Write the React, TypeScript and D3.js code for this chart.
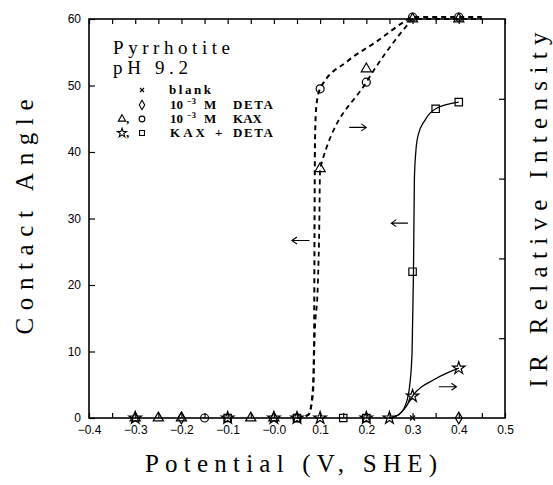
import { useEffect, useRef } from 'react';
import * as d3 from 'd3';

// axis ticks
const xTickLabels = ['−0.4', '−0.3', '−0.2', '−0.1', '−0.0', '0.1', '0.2', '0.3', '0.4', '0.5'];
const yTickValues = [0, 10, 20, 30, 40, 50, 60];

// 10^-3 M KAX: triangles = IR intensity, circles = contact angle
const kaxIrX = [-0.3, -0.25, -0.2, -0.05, 0.0, 0.1, 0.2, 0.3, 0.4];
const kaxIrY = [0, 0, 0, 0, 0, 37.5, 52.5, 60, 60];
const kaxAngleX = [-0.15, 0.05, 0.1, 0.2, 0.3, 0.4];
const kaxAngleY = [0, 0, 49.5, 50.5, 60.3, 60.3];

// KAX + DETA: stars = IR intensity, squares = contact angle
const mixIrX = [-0.3, -0.1, 0.0, 0.05, 0.1, 0.2, 0.25, 0.3, 0.4];
const mixIrY = [0, 0, 0, 0, 0, 0, 0, 3.3, 7.5];
const mixAngleX = [-0.1, 0.05, 0.15, 0.2, 0.3, 0.35, 0.4];
const mixAngleY = [0, 0, 0, 0, 22, 46.5, 47.5];

// 10^-3 M DETA (diamonds) and blank (x)
const detaX = [-0.2, 0.4];
const detaY = [0, 0];
const blankX = [0.3];
const blankY = [0];

// hand drawn fit curves
const kaxAngleFitX = [0.05, 0.075, 0.084, 0.087, 0.088, 0.089, 0.092, 0.1, 0.16, 0.22, 0.28, 0.3, 0.45];
const kaxAngleFitY = [0, 0.5, 4, 12, 30, 42, 47, 49.5, 53.7, 56.5, 59.5, 60.3, 60.3];
const kaxIrFitX = [0.05, 0.075, 0.085, 0.088, 0.095, 0.098, 0.1, 0.2, 0.29, 0.3, 0.45];
const kaxIrFitY = [0, 0.5, 4, 12, 20, 28, 37.5, 50.5, 59.2, 60, 60];
const mixAngleFitX = [0.25, 0.27, 0.285, 0.294, 0.299, 0.302, 0.304, 0.307, 0.312, 0.327, 0.35, 0.4];
const mixAngleFitY = [0, 0.5, 2, 5, 10, 22, 36, 40, 42.5, 44.8, 46.5, 47.5];
const mixIrFitX = [0.25, 0.27, 0.285, 0.3, 0.35, 0.4];
const mixIrFitY = [0, 0.5, 1.6, 3.3, 5.9, 7.5];

// arrows: tail x, head x, y
const arrowTail = [0.077, 0.163, 0.29, 0.357];
const arrowHead = [0.039, 0.2, 0.254, 0.395];
const arrowY = [26.7, 43.7, 29.3, 4.7];

const zip = (xs: number[], ys: number[]) => xs.map((v, i) => [v, ys[i]] as [number, number]);

const W = 553;
const H = 485;
const tickFont = '"Liberation Sans", Arial, sans-serif';
const titleFont = '"Liberation Serif", "DejaVu Serif", serif';

const crossPath = (s: number) => `M${-s},${-s}L${s},${s}M${-s},${s}L${s},${-s}`;

const useD3 = (render: (svg: d3.Selection<SVGSVGElement, unknown, null, undefined>) => void, deps: unknown[]) => {
  const ref = useRef<SVGSVGElement>(null);
  useEffect(() => {
    if (ref.current) render(d3.select(ref.current));
  }, deps);
  return ref;
};

export default function App() {
  const ref = useD3((svg) => {
    svg.selectAll('*').remove();

    const x = d3.scaleLinear().domain([-0.4, 0.5]).range([89, 505]);
    const y = d3.scaleLinear().domain([0, 60]).range([418, 19]);
    // right axis has no labels, only ticks
    const yR = d3.scaleLinear().domain([0, 5]).range([y(0), y(60)]);

    const xTicks = d3.range(19).map((i) => -0.4 + i * 0.05);
    const labelFor = (v: number) => {
      const k = Math.round((v + 0.4) * 20);
      return k % 2 === 0 ? xTickLabels[k / 2] : '';
    };

    const styleAxis = (g: d3.Selection<SVGGElement, unknown, null, undefined>) => {
      g.select('.domain').remove();
      g.selectAll('line').attr('stroke', '#000').attr('stroke-width', 1.2);
      g.selectAll('text').attr('font-family', tickFont).attr('font-size', 12).attr('fill', '#000');
    };

    svg.append('g')
      .attr('transform', `translate(0,${y(0)})`)
      .call(d3.axisBottom(x).tickValues(xTicks).tickSize(-5).tickPadding(7).tickFormat((d) => labelFor(+d)))
      .call(styleAxis);
    svg.append('g')
      .attr('transform', `translate(0,${y(60)})`)
      .call(d3.axisTop(x).tickValues(xTicks).tickSize(-5).tickFormat(() => ''))
      .call(styleAxis);
    svg.append('g')
      .attr('transform', `translate(${x(-0.4)},0)`)
      .call(d3.axisLeft(y).tickValues(yTickValues).tickSize(-6).tickPadding(8).tickFormat((d) => String(d)))
      .call(styleAxis);
    svg.append('g')
      .attr('transform', `translate(${x(0.5)},0)`)
      .call(d3.axisRight(yR).tickValues([1, 2, 3, 4]).tickSize(-6).tickFormat(() => ''))
      .call(styleAxis);

    // frame
    svg.append('rect')
      .attr('x', x(-0.4)).attr('y', y(60))
      .attr('width', x(0.5) - x(-0.4)).attr('height', y(0) - y(60))
      .attr('fill', 'none').attr('stroke', '#000').attr('stroke-width', 1.6);

    // fit curves
    const line = d3.line<[number, number]>()
      .x((d) => x(d[0])).y((d) => y(d[1]))
      .curve(d3.curveMonotoneX);
    const curves = [
      { pts: zip(kaxAngleFitX, kaxAngleFitY), dash: '5,4', w: 2 },
      { pts: zip(kaxIrFitX, kaxIrFitY), dash: '5,4', w: 1.8 },
      { pts: zip(mixAngleFitX, mixAngleFitY), dash: null, w: 1.3 },
      { pts: zip(mixIrFitX, mixIrFitY), dash: null, w: 1.3 },
    ];
    curves.forEach((c) => {
      svg.append('path')
        .attr('d', line(c.pts))
        .attr('fill', 'none').attr('stroke', '#000')
        .attr('stroke-width', c.w)
        .attr('stroke-dasharray', c.dash);
    });

    // markers
    const sym = (type: d3.SymbolType, size: number) => d3.symbol().type(type).size(size)() || '';
    const series = [
      { pts: zip(kaxIrX, kaxIrY), d: sym(d3.symbolTriangle, 45) },
      { pts: zip(kaxAngleX, kaxAngleY), d: sym(d3.symbolCircle, 50) },
      { pts: zip(mixIrX, mixIrY), d: sym(d3.symbolStar, 48) },
      { pts: zip(mixAngleX, mixAngleY), d: sym(d3.symbolSquare, 55) },
      { pts: zip(detaX, detaY), d: sym(d3.symbolDiamond, 40) },
      { pts: zip(blankX, blankY), d: crossPath(2.5) },
    ];
    series.forEach((s) => {
      svg.append('g').selectAll('path')
        .data(s.pts)
        .join('path')
        .attr('transform', (d) => `translate(${x(d[0])},${y(d[1])})`)
        .attr('d', s.d)
        .attr('fill', 'none').attr('stroke', '#000').attr('stroke-width', 1.2);
    });

    // arrows
    arrowTail.forEach((t, i) => {
      const x0 = x(t), x1 = x(arrowHead[i]), yy = y(arrowY[i]);
      const dir = x1 > x0 ? 1 : -1;
      svg.append('path')
        .attr('d', `M${x0},${yy}L${x1},${yy}M${x1 - dir * 5},${yy - 3.5}L${x1},${yy}L${x1 - dir * 5},${yy + 3.5}`)
        .attr('fill', 'none').attr('stroke', '#000').attr('stroke-width', 1.1);
    });

    // titles
    svg.append('text')
      .attr('x', 291).attr('y', 472).attr('text-anchor', 'middle')
      .attr('font-family', titleFont).attr('font-size', 25)
      .attr('textLength', 292).attr('lengthAdjust', 'spacing')
      .text('Potential (V, SHE)');
    svg.append('text')
      .attr('transform', 'translate(33,217) rotate(-90)').attr('text-anchor', 'middle')
      .attr('font-family', titleFont).attr('font-size', 25)
      .attr('textLength', 235).attr('lengthAdjust', 'spacing')
      .text('Contact Angle');
    svg.append('text')
      .attr('transform', 'translate(547,210) rotate(-90)').attr('text-anchor', 'middle')
      .attr('font-family', titleFont).attr('font-size', 25)
      .attr('textLength', 355).attr('lengthAdjust', 'spacing')
      .text('IR Relative Intensity');

    svg.append('text')
      .attr('x', 113).attr('y', 54)
      .attr('font-family', titleFont).attr('font-size', 19)
      .attr('textLength', 117).attr('lengthAdjust', 'spacing')
      .text('Pyrrhotite');
    svg.append('text')
      .attr('x', 113).attr('y', 74)
      .attr('font-family', titleFont).attr('font-size', 19)
      .attr('textLength', 75).attr('lengthAdjust', 'spacing')
      .text('pH 9.2');

    // legend
    const leg = svg.append('g')
      .attr('font-family', titleFont).attr('font-size', 13).attr('font-weight', 'bold');
    const rows = [94, 109, 123, 137];
    const addSym = (d: string, cx: number, cy: number) => leg.append('path')
      .attr('transform', `translate(${cx},${cy})`).attr('d', d)
      .attr('fill', 'none').attr('stroke', '#000').attr('stroke-width', 1.1);
    addSym(crossPath(2), 142, rows[0] - 4);
    addSym(sym(d3.symbolDiamond, 26), 142, rows[1] - 4);
    addSym(sym(d3.symbolTriangle, 24), 122, rows[2] - 4);
    addSym(sym(d3.symbolCircle, 26), 142, rows[2] - 4);
    addSym(sym(d3.symbolStar, 26), 122, rows[3] - 4);
    addSym(sym(d3.symbolSquare, 24), 142, rows[3] - 4);
    leg.append('text').attr('x', 126).attr('y', rows[2]).text(',');
    leg.append('text').attr('x', 126).attr('y', rows[3]).text(',');

    leg.append('text').attr('x', 169).attr('y', rows[0])
      .attr('textLength', 42).attr('lengthAdjust', 'spacing').text('blank');
    [['DETA', 40], ['KAX', 29]].forEach(([name, len], i) => {
      const r = rows[i + 1];
      leg.append('text').attr('x', 170).attr('y', r).text('10');
      leg.append('text').attr('x', 187).attr('y', r - 5).attr('font-size', 8.5).text('−3');
      leg.append('text').attr('x', 204).attr('y', r).text('M');
      leg.append('text').attr('x', 233).attr('y', r)
        .attr('textLength', len as number).attr('lengthAdjust', 'spacing').text(name as string);
    });
    leg.append('text').attr('x', 170).attr('y', rows[3])
      .attr('textLength', 35).attr('lengthAdjust', 'spacing').text('KAX');
    leg.append('text').attr('x', 215).attr('y', rows[3]).text('+');
    leg.append('text').attr('x', 233).attr('y', rows[3])
      .attr('textLength', 40).attr('lengthAdjust', 'spacing').text('DETA');
  }, []);

  return (
    <svg
      ref={ref}
      width={W}
      height={H}
      style={{ position: 'absolute', left: 0, top: 0, background: '#fff' }}
    />
  );
}
